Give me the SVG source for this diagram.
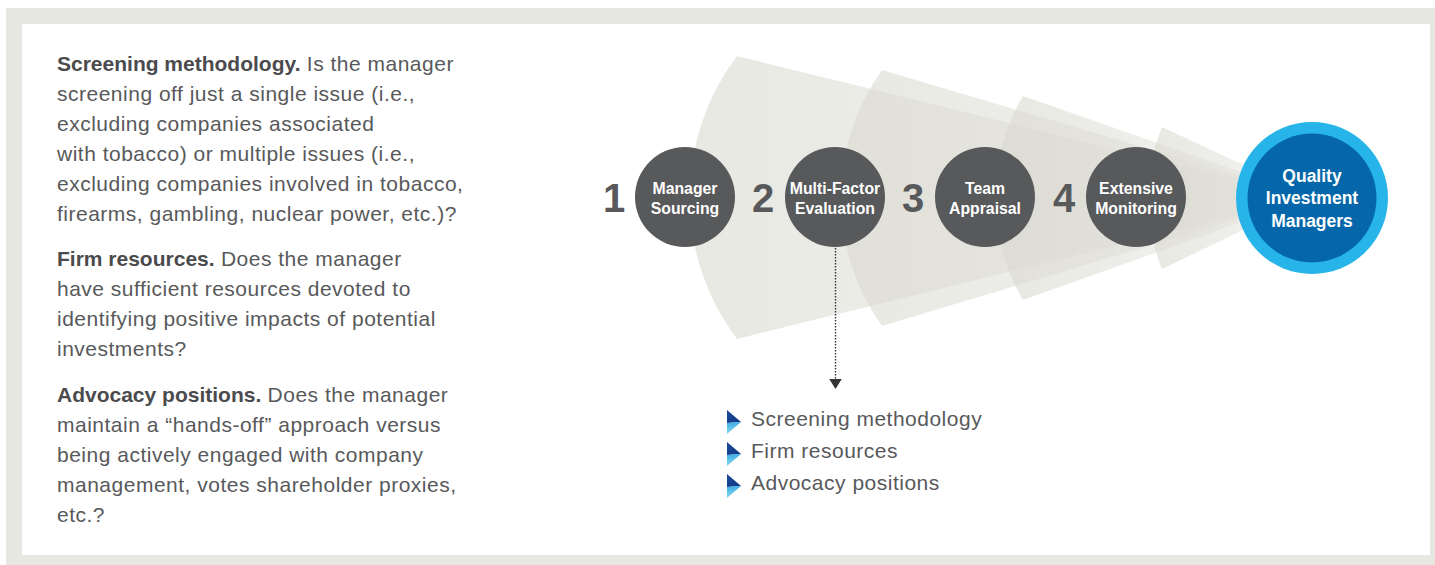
<svg xmlns="http://www.w3.org/2000/svg" width="1435" height="565" viewBox="0 0 1435 565">
  <defs>
    <style>
      .body { font-family: "Liberation Sans", Arial, sans-serif; font-size: 21px; fill: #58595b; letter-spacing: 0.5px; }
      .head { font-weight: bold; fill: #4b4b4d; letter-spacing: 0; }
      .num { font-family: "Liberation Sans", Arial, sans-serif; font-size: 40px; font-weight: bold; fill: #58595b; text-anchor: middle; }
      .lbl { font-family: "Liberation Sans", Arial, sans-serif; font-size: 15.8px; font-weight: bold; fill: #ffffff; text-anchor: middle; }
      .qlbl { font-family: "Liberation Sans", Arial, sans-serif; font-size: 17.5px; font-weight: bold; fill: #ffffff; text-anchor: middle; }
      .step { fill: #58595b; }
      .fan { fill: url(#fanFade); }
      .item { font-family: "Liberation Sans", Arial, sans-serif; font-size: 21px; fill: #58595b; letter-spacing: 0.5px; }
    </style>
    <linearGradient id="fanFade" x1="0" y1="0" x2="1" y2="0">
      <stop offset="0" stop-color="#d9d8cf" stop-opacity="0.6"/>
      <stop offset="0.6" stop-color="#d9d8cf" stop-opacity="0.4"/>
      <stop offset="1" stop-color="#d9d8cf" stop-opacity="0.15"/>
    </linearGradient>
    <linearGradient id="chevDark" x1="0" y1="0" x2="1" y2="1">
      <stop offset="0" stop-color="#1f4a9c"/>
      <stop offset="1" stop-color="#0d3585"/>
    </linearGradient>
    <linearGradient id="chevLight" x1="0" y1="0" x2="0" y2="1">
      <stop offset="0" stop-color="#3aaee3"/>
      <stop offset="1" stop-color="#8ad6f4"/>
    </linearGradient>
    <marker id="arrowDown" viewBox="0 0 10 8" refX="5" refY="8" markerWidth="13" markerHeight="10" markerUnits="userSpaceOnUse">
      <path d="M0,0 L10,0 L5,8 Z" fill="#333333"/>
    </marker>
    <g id="chevron">
      <polygon points="0,0 14,12 0,13" fill="url(#chevDark)"/>
      <polygon points="0,13 14,12 0,24" fill="url(#chevLight)"/>
    </g>
  </defs>

  <!-- frame -->
  <rect x="6" y="8" width="1429" height="557" fill="#e8e8e2"/>
  <rect x="22" y="24" width="1408" height="531" fill="#ffffff"/>

  <!-- explanatory text -->
  <g id="notes">
    <text class="body" x="57" y="71"><tspan class="head">Screening methodology.</tspan> Is the manager</text>
    <text class="body" x="57" y="101">screening off just a single issue (i.e.,</text>
    <text class="body" x="57" y="131">excluding companies associated</text>
    <text class="body" x="57" y="161">with tobacco) or multiple issues (i.e.,</text>
    <text class="body" x="57" y="191">excluding companies involved in tobacco,</text>
    <text class="body" x="57" y="221">firearms, gambling, nuclear power, etc.)?</text>

    <text class="body" x="57" y="266"><tspan class="head">Firm resources.</tspan> Does the manager</text>
    <text class="body" x="57" y="296">have sufficient resources devoted to</text>
    <text class="body" x="57" y="326">identifying positive impacts of potential</text>
    <text class="body" x="57" y="356">investments?</text>

    <text class="body" x="57" y="402"><tspan class="head">Advocacy positions.</tspan> Does the manager</text>
    <text class="body" x="57" y="432">maintain a “hands-off” approach versus</text>
    <text class="body" x="57" y="462">being actively engaged with company</text>
    <text class="body" x="57" y="492">management, votes shareholder proxies,</text>
    <text class="body" x="57" y="522">etc.?</text>
  </g>

  <!-- converging funnel beams -->
  <g id="beams">
    <path class="fan" d="M737,56 L1312,197 L737,339 A235,235 0 0 1 737,56 Z"/>
    <path class="fan" d="M882,70 L1312,197 L882,326 A220,220 0 0 1 882,70 Z"/>
    <path class="fan" d="M1023,96 L1312,197 L1023,300 A200,200 0 0 1 1023,96 Z"/>
    <path class="fan" d="M1162,127 L1312,197 L1162,269 A187,187 0 0 1 1162,127 Z"/>
  </g>

  <!-- connectors -->
  <g id="connectors">
    <line x1="835.5" y1="248" x2="835.5" y2="389" stroke="#333333" stroke-width="1.4" stroke-dasharray="1.5 1.5" marker-end="url(#arrowDown)"/>
  </g>

  <!-- step numbers -->
  <g id="numbers">
    <text class="num" x="614" y="212">1</text>
    <text class="num" x="763" y="212">2</text>
    <text class="num" x="913" y="212">3</text>
    <text class="num" x="1064" y="212">4</text>
  </g>

  <g id="step1">
    <circle class="step" cx="685" cy="197" r="50"/>
    <text class="lbl" x="685" y="194">Manager</text>
    <text class="lbl" x="685" y="214">Sourcing</text>
  </g>
  <g id="step2">
    <circle class="step" cx="835" cy="197" r="50"/>
    <text class="lbl" x="835" y="194">Multi-Factor</text>
    <text class="lbl" x="835" y="214">Evaluation</text>
  </g>
  <g id="step3">
    <circle class="step" cx="985" cy="197" r="50"/>
    <text class="lbl" x="985" y="194">Team</text>
    <text class="lbl" x="985" y="214">Appraisal</text>
  </g>
  <g id="step4">
    <circle class="step" cx="1136" cy="197" r="50"/>
    <text class="lbl" x="1136" y="194">Extensive</text>
    <text class="lbl" x="1136" y="214">Monitoring</text>
  </g>
  <g id="outcome">
    <circle cx="1312" cy="198" r="76" fill="#27b5e9"/>
    <circle cx="1312" cy="198" r="64.5" fill="#0567a9"/>
    <text class="qlbl" x="1312" y="182">Quality</text>
    <text class="qlbl" x="1312" y="204">Investment</text>
    <text class="qlbl" x="1312" y="227">Managers</text>
  </g>

  <!-- evaluation criteria -->
  <g id="criteria">
    <use href="#chevron" x="727" y="410"/>
    <text class="item" x="751" y="426">Screening methodology</text>
    <use href="#chevron" x="727" y="442"/>
    <text class="item" x="751" y="458">Firm resources</text>
    <use href="#chevron" x="727" y="474"/>
    <text class="item" x="751" y="490">Advocacy positions</text>
  </g>
</svg>
